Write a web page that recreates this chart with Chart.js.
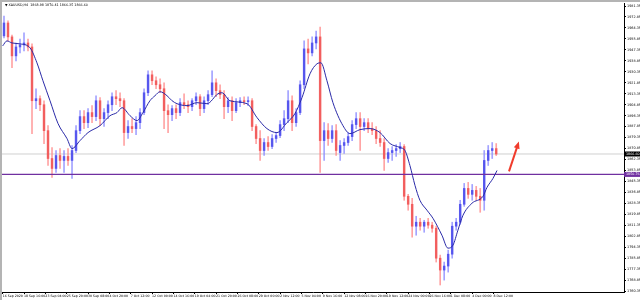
<!doctype html>
<html>
<head>
    <meta charset="utf-8">
    <title>XAUUSD,H4</title>
    <script src="https://cdn.jsdelivr.net/npm/chart.js"></script>
    <style>
        html, body { margin: 0; padding: 0; background: #fff; }
        #wrap { width: 640px; height: 300px; }
    </style>
</head>
<body>
<div id="wrap"><canvas id="myChart" width="640" height="300"></canvas></div>

<script>
    // XAUUSD H4, every candle here groups 3 H4 bars (bar index on the x axis)
    var barsPerCandle = 3;

    var opens = [
        1958.2, 1968.2, 1957.4, 1942.7, 1949.6, 1951.2, 1952.7, 1949.6, 1907.9, 1909.5,
        1904.8, 1884.7, 1863.1, 1855.4, 1865.4, 1861.6, 1864.7, 1861.6, 1869.3, 1884.7,
        1895.6, 1890.9, 1898.7, 1895.6, 1907.9, 1894.0, 1898.7, 1904.8, 1911.0, 1909.5,
        1907.9, 1883.2, 1887.9, 1886.3, 1890.9, 1898.7, 1914.1, 1928.0, 1923.4, 1920.3,
        1917.2, 1900.2, 1897.1, 1901.8, 1898.7, 1906.4, 1904.8, 1903.3, 1907.9, 1911.0,
        1901.8, 1907.9, 1912.6, 1921.8, 1915.7, 1912.6, 1903.3, 1907.9, 1900.2, 1906.4,
        1907.9, 1907.2, 1907.9, 1887.9, 1878.6, 1869.3, 1875.5, 1872.4, 1878.6, 1880.9,
        1889.4, 1894.0, 1907.9, 1890.9, 1898.7, 1920.3, 1948.1, 1945.0, 1952.7, 1957.4,
        1877.0, 1884.7, 1878.6, 1884.7, 1867.7, 1873.2, 1875.5, 1880.1, 1889.4, 1894.0,
        1887.9, 1890.9, 1886.3, 1884.7, 1878.6, 1875.5, 1863.1, 1867.7, 1869.3, 1870.8,
        1872.4, 1833.8, 1827.6, 1810.6, 1813.7, 1810.6, 1813.7, 1811.4, 1809.0, 1785.8,
        1776.6, 1779.7, 1788.9, 1810.6, 1813.7, 1827.6, 1839.9, 1835.3, 1838.4, 1833.8,
        1830.7, 1861.6, 1869.3, 1870.8
    ];
    var highs = [
        1973.6, 1969.8, 1958.9, 1952.7, 1955.8, 1960.5, 1955.8, 1952.0, 1917.2, 1911.8,
        1907.9, 1888.6, 1871.6, 1869.3, 1870.8, 1869.3, 1870.8, 1873.2, 1888.6, 1900.2,
        1900.2, 1901.8, 1904.1, 1911.8, 1910.3, 1901.8, 1907.9, 1914.1, 1915.7, 1914.1,
        1909.5, 1892.5, 1894.0, 1895.6, 1901.8, 1917.2, 1931.1, 1931.1, 1926.5, 1924.9,
        1921.8, 1904.8, 1904.1, 1904.8, 1909.5, 1913.3, 1907.9, 1909.5, 1914.1, 1912.6,
        1911.0, 1915.7, 1931.1, 1924.9, 1920.3, 1915.7, 1910.3, 1911.0, 1909.5, 1910.3,
        1911.0, 1911.0, 1909.5, 1889.4, 1884.7, 1878.6, 1880.1, 1881.6, 1883.2, 1892.5,
        1900.2, 1915.7, 1911.8, 1901.8, 1923.4, 1954.3, 1955.8, 1957.4, 1962.0, 1965.1,
        1890.9, 1890.2, 1888.6, 1889.4, 1877.0, 1878.6, 1883.2, 1892.5, 1898.7, 1898.7,
        1894.0, 1894.0, 1890.9, 1887.9, 1884.7, 1878.6, 1870.8, 1872.4, 1873.9, 1875.5,
        1873.9, 1835.3, 1832.2, 1818.3, 1816.7, 1815.2, 1816.7, 1813.7, 1810.6, 1788.2,
        1782.8, 1792.0, 1813.7, 1816.7, 1830.7, 1843.8, 1844.6, 1843.0, 1841.5, 1839.9,
        1869.3, 1873.2, 1875.5, 1874.7
    ];
    var lows = [
        1956.6, 1954.3, 1933.5, 1938.8, 1945.0, 1946.6, 1946.6, 1882.4, 1901.8, 1900.2,
        1874.7, 1857.7, 1848.4, 1852.3, 1855.4, 1852.3, 1857.7, 1847.7, 1867.7, 1882.4,
        1886.3, 1887.1, 1890.9, 1892.5, 1888.6, 1887.9, 1894.0, 1900.2, 1904.8, 1903.3,
        1873.2, 1878.6, 1883.2, 1881.6, 1886.3, 1897.1, 1911.8, 1920.3, 1917.2, 1914.1,
        1886.3, 1883.2, 1892.5, 1894.0, 1896.3, 1901.8, 1898.7, 1900.2, 1904.8, 1896.3,
        1898.7, 1904.8, 1911.0, 1911.0, 1909.5, 1894.0, 1898.7, 1892.5, 1898.7, 1903.3,
        1904.8, 1904.1, 1884.7, 1874.7, 1861.6, 1865.4, 1869.3, 1870.8, 1875.5, 1879.3,
        1884.7, 1890.9, 1884.7, 1887.9, 1897.1, 1917.2, 1936.5, 1942.7, 1948.1, 1852.3,
        1861.6, 1873.2, 1875.5, 1865.4, 1861.6, 1867.0, 1873.2, 1877.0, 1886.3, 1869.3,
        1884.7, 1883.2, 1881.6, 1874.7, 1872.4, 1853.8, 1860.0, 1861.6, 1864.7, 1867.7,
        1830.7, 1823.0, 1802.1, 1803.6, 1807.5, 1805.9, 1809.0, 1805.9, 1782.8, 1765.0,
        1768.8, 1775.0, 1785.8, 1807.5, 1812.1, 1826.0, 1832.2, 1830.7, 1830.7, 1821.4,
        1823.0, 1857.7, 1863.1, 1865.4
    ];
    var closes = [
        1968.2, 1957.4, 1942.7, 1949.6, 1951.2, 1952.7, 1949.6, 1907.9, 1909.5, 1904.8,
        1884.7, 1863.1, 1855.4, 1865.4, 1861.6, 1864.7, 1861.6, 1869.3, 1884.7, 1895.6,
        1890.9, 1898.7, 1895.6, 1907.9, 1894.0, 1898.7, 1904.8, 1911.0, 1909.5, 1907.9,
        1883.2, 1887.9, 1886.3, 1890.9, 1898.7, 1914.1, 1928.0, 1923.4, 1920.3, 1917.2,
        1900.2, 1897.1, 1901.8, 1898.7, 1906.4, 1904.8, 1903.3, 1907.9, 1911.0, 1901.8,
        1907.9, 1912.6, 1921.8, 1915.7, 1912.6, 1903.3, 1907.9, 1900.2, 1906.4, 1907.9,
        1907.2, 1907.9, 1887.9, 1878.6, 1869.3, 1875.5, 1872.4, 1878.6, 1880.9, 1889.4,
        1894.0, 1907.9, 1890.9, 1898.7, 1920.3, 1948.1, 1945.0, 1952.7, 1957.4, 1877.0,
        1884.7, 1878.6, 1884.7, 1869.3, 1873.2, 1875.5, 1880.1, 1889.4, 1894.0, 1887.9,
        1890.9, 1886.3, 1884.7, 1878.6, 1875.5, 1863.1, 1867.7, 1869.3, 1870.8, 1872.4,
        1833.8, 1827.6, 1810.6, 1813.7, 1810.6, 1813.7, 1811.4, 1809.0, 1785.8, 1776.6,
        1779.7, 1788.9, 1810.6, 1813.7, 1827.6, 1839.9, 1835.3, 1838.4, 1833.8, 1830.7,
        1861.6, 1869.3, 1870.8, 1866.6
    ];

    // moving average (bar index, price)
    var maBars = [0, 3.2, 7.0, 13.0, 20.5, 25.7, 30.2, 35.5, 41.5, 48.2, 52.0, 58.0, 64.0, 73.0, 80.5,
        85.7, 89.5, 95.5, 100.7, 105.2, 110.4, 114.2, 118.0, 123.2, 127.0, 130.7, 138.2, 145.7, 153.2,
        161.4, 164.4, 170.4, 183.2, 190.7, 198.1, 205.6, 213.1, 219.1, 224.4, 230.4, 235.6, 238.6, 243.1,
        247.6, 255.1, 260.4, 267.9, 275.4, 282.9, 290.4, 297.9, 301.6, 305.3, 309.1, 312.8, 318.1, 322.6,
        329.3, 333.8, 337.6, 341.3, 345.1, 351.8, 360.1, 363.1, 367.6, 370.6];
    var maValues = [1950.4, 1954.3, 1952.7, 1952.0, 1948.9, 1937.3, 1923.4, 1907.9, 1890.2, 1878.6, 1870.8,
        1877.0, 1883.2, 1888.6, 1896.3, 1898.7, 1902.5, 1896.3, 1892.5, 1898.7, 1907.9, 1911.8, 1914.9,
        1911.8, 1907.9, 1905.6, 1904.1, 1906.4, 1905.6, 1913.3, 1914.1, 1907.9, 1905.6, 1894.8, 1886.3,
        1883.2, 1890.9, 1897.9, 1910.3, 1928.8, 1936.5, 1937.3, 1923.4, 1906.4, 1888.6, 1882.4, 1885.5,
        1886.3, 1883.2, 1874.7, 1871.6, 1869.3, 1857.7, 1842.3, 1830.7, 1823.0, 1816.7, 1803.6, 1793.6,
        1795.9, 1807.5, 1819.1, 1828.4, 1833.8, 1840.7, 1847.7, 1853.8];

    var yTickValues = [1981.35, 1972.85, 1964.35, 1955.85, 1947.35, 1938.85, 1930.35, 1921.85, 1913.35,
        1904.85, 1896.35, 1887.85, 1879.35, 1870.85, 1862.35, 1853.85, 1845.35, 1836.85, 1828.35,
        1819.85, 1811.35, 1802.85, 1794.35, 1785.85, 1777.35, 1768.85, 1760.35];
    var xTickBars = [0, 16, 32, 48, 64, 80, 96, 112, 128, 144, 160, 176, 192, 208, 224, 240, 256, 272,
        288, 304, 320, 336, 352, 368];
    var xTickLabels = ['16 Sep 2020', '18 Sep 16:00', '23 Sep 04:00', '25 Sep 20:00', '30 Sep 08:00',
        '4 Oct 20:00', '7 Oct 12:00', '12 Oct 00:00', '14 Oct 16:00', '19 Oct 04:00', '21 Oct 20:00',
        '26 Oct 08:00', '29 Oct 00:00', '2 Nov 12:00', '5 Nov 04:00', '9 Nov 16:00', '12 Nov 08:00',
        '16 Nov 20:00', '19 Nov 12:00', '24 Nov 00:00', '26 Nov 16:00', '1 Dec 08:00', '4 Dec 00:00',
        '8 Dec 12:00'];

    var headerText = '\u25BC XAUUSD,H4  1868.98 1870.41 1866.35 1866.60';
    var levelPrice = 1850.76;
    var bidPrice = 1866.60;
    var arrowFrom = {bar: 379.6, price: 1853.1};
    var arrowTo = {bar: 387.0, price: 1876.2};

    var xMin = -0.5, xMax = 465.8;
    var yMin = 1759.58, yMax = 1983.66;

    var font = '"DejaVu Sans", "Liberation Sans", sans-serif';

    function candleX(i) {
        return i * barsPerCandle + 1;
    }

    var wickData = [], bodyData = [], wickColors = [], bodyColors = [];
    for (var i = 0; i < opens.length; i++) {
        var up = closes[i] >= opens[i];
        wickData.push({x: candleX(i), y: [lows[i], highs[i]]});
        bodyData.push({x: candleX(i), y: [opens[i], closes[i]]});
        wickColors.push(up ? 'rgba(140,140,255,0.8)' : 'rgba(255,140,140,0.8)');
        bodyColors.push(up ? 'rgba(70,70,235,0.85)' : 'rgba(240,80,80,0.85)');
    }

    var maData = maBars.map(function (b, k) {
        return {x: b, y: maValues[k]};
    });

    var decor = {
        id: 'decor',
        beforeDraw: function (chart) {
            var ctx = chart.ctx;
            ctx.save();
            ctx.fillStyle = '#fff';
            ctx.fillRect(0, 0, chart.width, chart.height);
            ctx.fillStyle = '#b4b4b4';
            ctx.fillRect(0, 0, chart.width, 2);
            ctx.fillRect(0, 0, 2, chart.height);
            ctx.restore();
        },
        afterDraw: function (chart) {
            var ctx = chart.ctx, xs = chart.scales.x, ys = chart.scales.y;
            ctx.save();

            ctx.font = '3.3px ' + font;
            ctx.fillStyle = '#000';
            ctx.textBaseline = 'middle';
            ctx.textAlign = 'left';
            ctx.fillText(headerText, 5, 5.5);

            function box(price, bg) {
                var y = ys.getPixelForValue(price);
                ctx.fillStyle = bg;
                ctx.fillRect(ys.left, y - 2.5, chart.width - ys.left, 5);
                ctx.fillStyle = '#fff';
                ctx.fillText(price.toFixed(2), ys.left + 2, y + 0.2);
            }
            box(bidPrice, '#000');
            box(levelPrice, '#7030a0');

            // red arrow
            var x1 = xs.getPixelForValue(arrowFrom.bar), y1 = ys.getPixelForValue(arrowFrom.price);
            var x2 = xs.getPixelForValue(arrowTo.bar), y2 = ys.getPixelForValue(arrowTo.price);
            var ang = Math.atan2(y2 - y1, x2 - x1);
            ctx.strokeStyle = '#f03c2c';
            ctx.fillStyle = '#f03c2c';
            ctx.lineWidth = 2;
            ctx.beginPath();
            ctx.moveTo(x1, y1);
            ctx.lineTo(x2 - 4 * Math.cos(ang), y2 - 4 * Math.sin(ang));
            ctx.stroke();
            ctx.beginPath();
            ctx.moveTo(x2, y2);
            ctx.lineTo(x2 - 7 * Math.cos(ang) + 3 * Math.sin(ang), y2 - 7 * Math.sin(ang) - 3 * Math.cos(ang));
            ctx.lineTo(x2 - 7 * Math.cos(ang) - 3 * Math.sin(ang), y2 - 7 * Math.sin(ang) + 3 * Math.cos(ang));
            ctx.closePath();
            ctx.fill();
            ctx.restore();
        }
    };

    var chart = new Chart(document.getElementById('myChart'), {
        type: 'bar',
        data: {
            datasets: [{
                type: 'line',
                label: 'MA',
                data: maData,
                borderColor: '#2a2aa8',
                borderWidth: 1,
                pointRadius: 0,
                cubicInterpolationMode: 'monotone',
                fill: false
            }, {
                type: 'line',
                label: 'level',
                data: [{x: xMin, y: levelPrice}, {x: xMax, y: levelPrice}],
                borderColor: '#7030a0',
                borderWidth: 1.3,
                pointRadius: 0
            }, {
                label: 'body',
                data: bodyData,
                backgroundColor: bodyColors,
                barThickness: 1.8,
                minBarLength: 1,
                grouped: false
            }, {
                label: 'wick',
                data: wickData,
                backgroundColor: wickColors,
                barThickness: 1,
                grouped: false
            }, {
                type: 'line',
                label: 'bid',
                data: [{x: xMin, y: bidPrice}, {x: xMax, y: bidPrice}],
                borderColor: '#d0d0d0',
                borderWidth: 1,
                pointRadius: 0
            }]
        },
        options: {
            responsive: false,
            animation: false,
            devicePixelRatio: 1,
            layout: {padding: {left: 2, top: 2, right: 0, bottom: 0}},
            plugins: {
                legend: {display: false},
                tooltip: {enabled: false},
                title: {display: false}
            },
            scales: {
                x: {
                    type: 'linear',
                    min: xMin,
                    max: xMax,
                    offset: false,
                    afterBuildTicks: function (scale) {
                        scale.ticks = xTickBars.map(function (b) { return {value: b}; });
                    },
                    afterFit: function (scale) { scale.height = 8; },
                    ticks: {
                        autoSkip: false,
                        maxRotation: 0,
                        align: 'start',
                        padding: 0,
                        color: '#000',
                        font: {size: 3.2, family: font},
                        callback: function (value, index) { return xTickLabels[index]; }
                    },
                    grid: {display: true, drawOnChartArea: false, drawTicks: true, tickLength: 2, color: '#000', offset: false},
                    border: {display: true, color: '#000', width: 1}
                },
                y: {
                    position: 'right',
                    min: yMin,
                    max: yMax,
                    afterBuildTicks: function (scale) {
                        scale.ticks = yTickValues.map(function (v) { return {value: v}; });
                    },
                    afterFit: function (scale) { scale.width = 16; },
                    ticks: {
                        padding: 1,
                        color: '#000',
                        font: {size: 3.4, family: font},
                        callback: function (value) { return value.toFixed(2); }
                    },
                    grid: {display: true, drawOnChartArea: false, drawTicks: true, tickLength: 2, color: '#000'},
                    border: {display: true, color: '#000', width: 1}
                }
            }
        },
        plugins: [decor]
    });
</script>
</body>
</html>
